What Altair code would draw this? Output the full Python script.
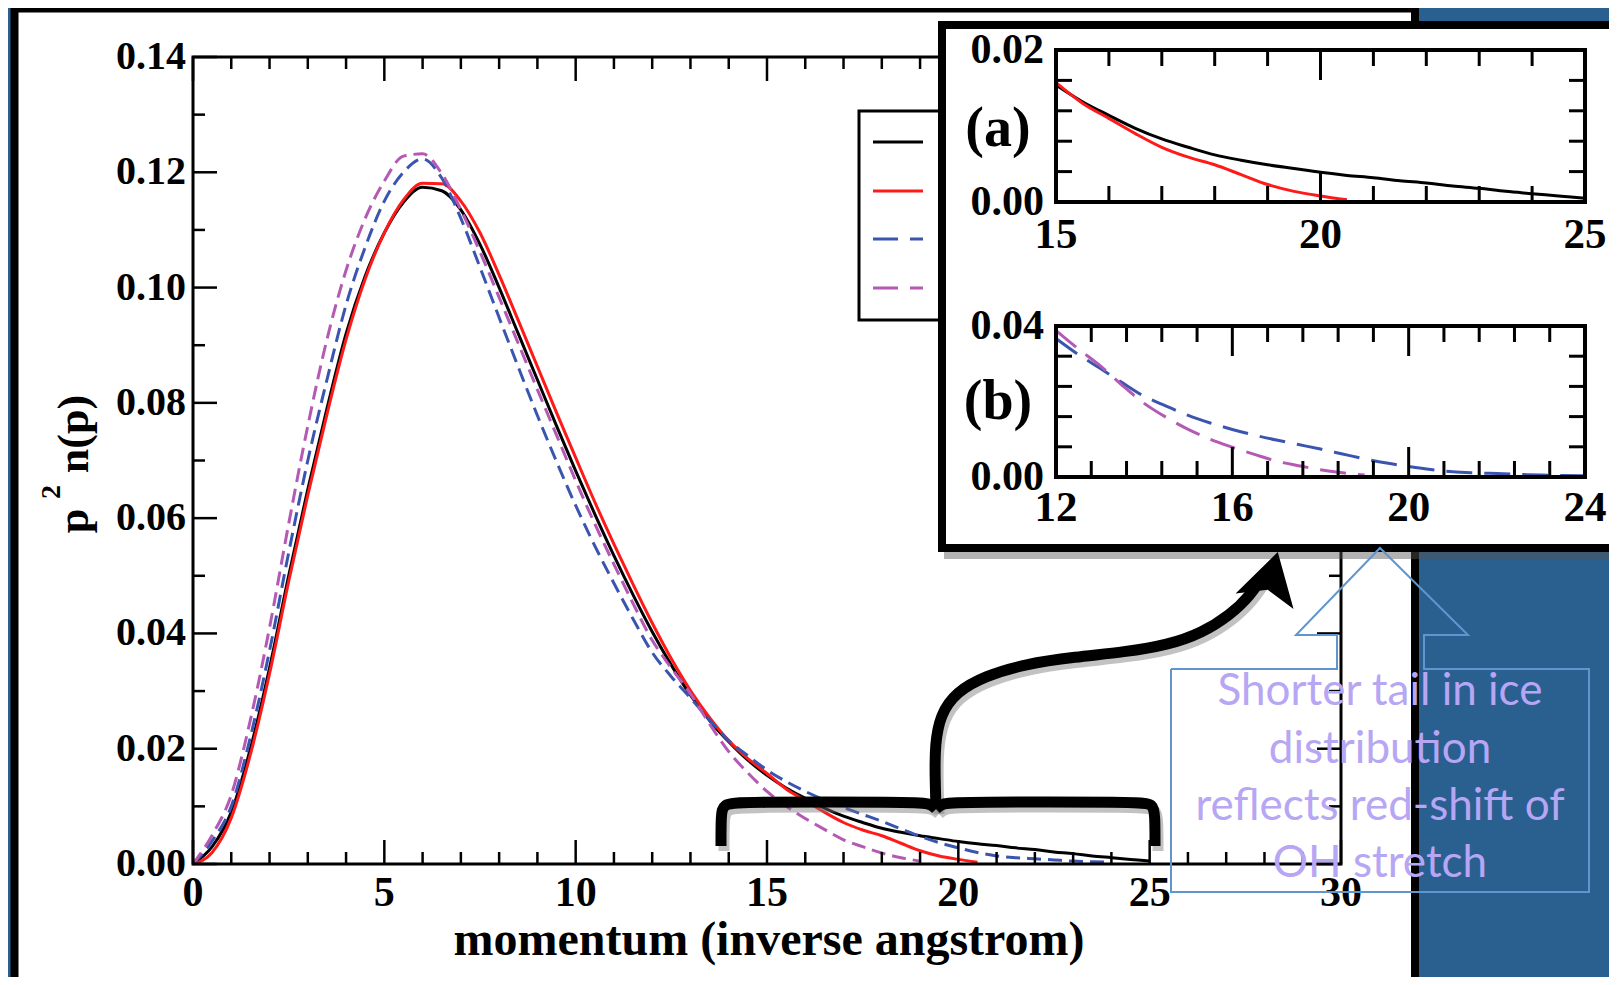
import altair as alt
import pandas as pd

# ---------------- data ----------------
MOMENTUM = [0.0, 0.5, 1.0, 1.5, 2.0, 2.5, 3.0, 3.5, 4.0, 4.5, 5.0, 5.5, 6.0, 6.5,
            7.0, 7.5, 8.0, 8.5, 9.0, 9.5, 10.0, 10.5, 11.0, 11.5, 12.0, 12.5,
            13.0, 13.5, 14.0, 14.5, 15.0, 15.5, 16.0, 16.5, 17.0, 17.5, 18.0,
            18.5, 19.0, 19.5, 20.0, 20.5, 21.0, 21.5, 22.0, 22.5, 23.0, 23.5,
            24.0, 24.5, 25.0]

BLACK = [0.000, 0.003, 0.009, 0.020, 0.034, 0.050, 0.065, 0.079, 0.092, 0.102,
         0.1095, 0.1148, 0.1174, 0.1168, 0.1135, 0.1075, 0.1000, 0.0920, 0.0840,
         0.0760, 0.0682, 0.0607, 0.0535, 0.0467, 0.0403, 0.0345, 0.0293, 0.0249,
         0.0212, 0.0180, 0.0154, 0.0132, 0.0114, 0.0097, 0.0083, 0.0072, 0.0062,
         0.0055, 0.0049, 0.0044, 0.0039, 0.0035, 0.0032, 0.0028, 0.0025, 0.0021,
         0.0018, 0.0014, 0.0011, 0.0008, 0.0005]

RED = [0.000, 0.002, 0.008, 0.019, 0.033, 0.049, 0.064, 0.078, 0.091, 0.1015,
       0.1095, 0.1152, 0.1181, 0.1180, 0.1150, 0.1095, 0.1022, 0.0943, 0.0863,
       0.0783, 0.0705, 0.0628, 0.0555, 0.0485, 0.0418, 0.0356, 0.0301, 0.0254,
       0.0214, 0.0183, 0.0157, 0.0130, 0.0110, 0.0090, 0.0072, 0.0059, 0.0049,
       0.0036, 0.0023, 0.0014, 0.0008, 0.0003]

BLUE = [0.000, 0.004, 0.010, 0.022, 0.037, 0.054, 0.070, 0.084, 0.097, 0.107,
        0.1150, 0.1200, 0.1223, 0.1190, 0.1120, 0.1035, 0.0948, 0.0862, 0.0778,
        0.0698, 0.0622, 0.0552, 0.0487, 0.0425, 0.0367, 0.0325, 0.0288, 0.0250,
        0.0214, 0.0188, 0.0163, 0.0143, 0.0126, 0.0111, 0.0098, 0.0086, 0.0074,
        0.0061, 0.0048, 0.0037, 0.0028, 0.0020, 0.0014, 0.0011, 0.0009, 0.0007,
        0.0005, 0.0004, 0.0003]

MAGENTA = [0.000, 0.005, 0.012, 0.025, 0.041, 0.059, 0.076, 0.091, 0.103, 0.112,
           0.1185, 0.1228, 0.1232, 0.1198, 0.1135, 0.1062, 0.0983, 0.0903, 0.0823,
           0.0744, 0.0665, 0.0590, 0.0520, 0.0452, 0.0388, 0.0340, 0.0295, 0.0243,
           0.0195, 0.0158, 0.0126, 0.0100, 0.0079, 0.0060, 0.0042, 0.0030, 0.0019,
           0.0011, 0.0005]

MAIN_X_TICKS = [0, 5, 10, 15, 20, 25, 30]
MAIN_X_LABELS = ["0", "5", "10", "15", "20", "25", "30"]
MAIN_Y_TICKS = [0.0, 0.02, 0.04, 0.06, 0.08, 0.10, 0.12, 0.14]
MAIN_Y_LABELS = ["0.00", "0.02", "0.04", "0.06", "0.08", "0.10", "0.12", "0.14"]
A_X_TICKS = [15, 20, 25]
A_X_LABELS = ["15", "20", "25"]
A_Y_TICKS = [0.0, 0.02]
A_Y_LABELS = ["0.00", "0.02"]
B_X_TICKS = [12, 16, 20, 24]
B_X_LABELS = ["12", "16", "20", "24"]
B_Y_TICKS = [0.0, 0.04]
B_Y_LABELS = ["0.00", "0.04"]
CALLOUT_LINES = ["Shorter tail in ice", "distribution", "reflects red-shift of", "OH stretch"]

# ---------------- styling / layout ----------------
SERIF = "Liberation Serif"
SANS = "Lato"
C_BLACK, C_RED, C_BLUE, C_MAG = "#000000", "#FF1A1A", "#3A55B0", "#B45AB4"
BG = "#2A6090"
OFF = 8  # page margin

PAGE = dict(xd=(0, 1617), xr=(0, 1617), yd=(0, 985), yr=(0, 985))
MAIN = dict(xd=(0, 30), xr=(193, 1341), yd=(0, 0.14), yr=(864, 57))
INA = dict(xd=(15, 25), xr=(1056, 1585), yd=(0, 0.02), yr=(202, 50))
INB = dict(xd=(12, 24), xr=(1056, 1585), yd=(0, 0.04), yr=(477, 326))


def sc(dom, rng):
    return alt.Scale(domain=list(dom), range=[rng[0] - OFF, rng[1] - OFF], nice=False, zero=False)


def X(P, f="x"):
    return alt.X(f"{f}:Q", scale=sc(P["xd"], P["xr"]), axis=None)


def Y(P, f="y"):
    return alt.Y(f"{f}:Q", scale=sc(P["yd"], P["yr"]), axis=None)


def rect(P, x, y, x2, y2, **mark):
    df = pd.DataFrame({"x": [x], "y": [y], "x2": [x2], "y2": [y2]})
    return alt.Chart(df).mark_rect(**mark).encode(x=X(P), x2="x2:Q", y=Y(P), y2="y2:Q")


def frame(P, sw):
    return rect(P, P["xd"][0], P["yd"][0], P["xd"][1], P["yd"][1],
                fillOpacity=0, stroke="black", strokeWidth=sw)


def ticks(P, xmaj, xmin, ymaj, ymin, lmaj, lmin, sw):
    xd, xr, yd, yr = P["xd"], P["xr"], P["yd"], P["yr"]
    xpp = (xd[1] - xd[0]) / abs(xr[1] - xr[0])
    ypp = (yd[1] - yd[0]) / abs(yr[1] - yr[0])
    rows = []
    for vals, L in ((xmaj, lmaj), (xmin, lmin)):
        for v in vals:
            rows.append((v, yd[0], v, yd[0] + L * ypp))
            rows.append((v, yd[1], v, yd[1] - L * ypp))
    for vals, L in ((ymaj, lmaj), (ymin, lmin)):
        for v in vals:
            rows.append((xd[0], v, xd[0] + L * xpp, v))
            rows.append((xd[1], v, xd[1] - L * xpp, v))
    df = pd.DataFrame(rows, columns=["x", "y", "x2", "y2"])
    return alt.Chart(df).mark_rule(color="black", strokeWidth=sw).encode(
        x=X(P), x2="x2:Q", y=Y(P), y2="y2:Q")


def xlabels(P, vals, texts, size, dy):
    df = pd.DataFrame({"x": vals, "y": [P["yd"][0]] * len(vals), "t": texts})
    return alt.Chart(df).mark_text(font=SERIF, fontSize=size, fontWeight="bold",
                                   baseline="middle", align="center", dy=dy).encode(
        x=X(P), y=Y(P), text="t:N")


def ylabels(P, vals, texts, size, dx):
    df = pd.DataFrame({"x": [P["xd"][0]] * len(vals), "y": vals, "t": texts})
    return alt.Chart(df).mark_text(font=SERIF, fontSize=size, fontWeight="bold",
                                   baseline="middle", align="right", dx=dx).encode(
        x=X(P), y=Y(P), text="t:N")


def curve(P, vals, color, dash, width, lo, hi):
    df = pd.DataFrame({"x": MOMENTUM[:len(vals)], "y": vals})
    df = df[(df.x >= lo) & (df.x <= hi)]
    mark = dict(color=color, strokeWidth=width, interpolate="monotone")
    if dash:
        mark["strokeDash"] = dash
    return alt.Chart(df).mark_line(**mark).encode(x=X(P), y=Y(P))


def path(pts, color, width, **kw):
    df = pd.DataFrame({"x": [p[0] for p in pts], "y": [p[1] for p in pts], "i": list(range(len(pts)))})
    return alt.Chart(df).mark_line(color=color, strokeWidth=width, **kw).encode(
        x=X(PAGE), y=Y(PAGE), order="i:Q")


def ptext(x, y, t, **mark):
    df = pd.DataFrame({"x": [x], "y": [y], "t": [t]})
    return alt.Chart(df).mark_text(**mark).encode(x=X(PAGE), y=Y(PAGE), text="t:N")


layers = []

# white slide panel with black border
layers.append(rect(PAGE, 14.5, 8.5, 1415, 1000, fill="white", stroke="black", strokeWidth=8))

# ---------------- main plot ----------------
layers.append(curve(MAIN, BLACK, C_BLACK, None, 3, 0, 30))
layers.append(curve(MAIN, RED, C_RED, None, 3, 0, 30))
layers.append(curve(MAIN, BLUE, C_BLUE, [14, 7], 3, 0, 30))
layers.append(curve(MAIN, MAGENTA, C_MAG, [14, 7], 3, 0, 30))
layers.append(frame(MAIN, 3))
layers.append(ticks(MAIN, MAIN_X_TICKS, [i for i in range(31) if i % 5],
                    MAIN_Y_TICKS, [0.01, 0.03, 0.05, 0.07, 0.09, 0.11, 0.13], 24, 12, 2.5))
layers.append(xlabels(MAIN, MAIN_X_TICKS, MAIN_X_LABELS, 42, 29))
layers.append(ylabels(MAIN, MAIN_Y_TICKS, MAIN_Y_LABELS, 40, -7))

# axis titles
layers.append(ptext(769, 955, "momentum (inverse angstrom)", font=SERIF, fontSize=48,
                    fontWeight="bold", align="center", baseline="alphabetic"))
layers.append(ptext(88, 521, "p", font=SERIF, fontSize=44, fontWeight="bold",
                    align="center", baseline="alphabetic", angle=270))
layers.append(ptext(88, 434, "n(p)", font=SERIF, fontSize=44, fontWeight="bold",
                    align="center", baseline="alphabetic", angle=270))
layers.append(ptext(60, 492, "2", font=SERIF, fontSize=28, fontWeight="bold",
                    align="center", baseline="alphabetic", angle=270))

# legend box (labels hidden under the inset)
layers.append(rect(PAGE, 859, 111, 990, 320, fill="white", stroke="black", strokeWidth=3))
layers.append(path([(873, 142), (923, 142)], C_BLACK, 3))
layers.append(path([(873, 191), (923, 191)], C_RED, 3))
layers.append(path([(873, 239), (923, 239)], C_BLUE, 3, strokeDash=[25, 12]))
layers.append(path([(873, 288), (923, 288)], C_MAG, 3, strokeDash=[25, 12]))

# ---------------- inset ----------------
layers.append(rect(PAGE, 944, 29, 1640, 559, fill="#555555", opacity=0.45))
layers.append(rect(PAGE, 942, 25, 1640, 548, fill="white", stroke="black", strokeWidth=8))

layers.append(curve(INA, BLACK, C_BLACK, None, 3, 15, 25))
layers.append(curve(INA, RED, C_RED, None, 3, 15, 25))
layers.append(frame(INA, 4))
layers.append(ticks(INA, A_X_TICKS, [16, 17, 18, 19, 21, 22, 23, 24], [],
                    [0.004, 0.008, 0.012, 0.016], 30, 16, 3))
layers.append(xlabels(INA, A_X_TICKS, A_X_LABELS, 43, 33))
layers.append(ylabels(INA, A_Y_TICKS, A_Y_LABELS, 42, -12))
layers.append(ptext(998, 129, "(a)", font=SERIF, fontSize=56, fontWeight="bold",
                    align="center", baseline="middle"))

layers.append(curve(INB, BLUE, C_BLUE, [26, 12], 3, 12, 24))
layers.append(curve(INB, MAGENTA, C_MAG, [26, 12], 3, 12, 24))
layers.append(frame(INB, 4))
layers.append(ticks(INB, B_X_TICKS,
                    [12.8, 13.6, 14.4, 15.2, 16.8, 17.6, 18.4, 19.2, 20.8, 21.6, 22.4, 23.2],
                    [], [0.008, 0.016, 0.024, 0.032], 30, 16, 3))
layers.append(xlabels(INB, B_X_TICKS, B_X_LABELS, 43, 31))
layers.append(ylabels(INB, B_Y_TICKS, B_Y_LABELS, 42, -12))
layers.append(ptext(998, 402, "(b)", font=SERIF, fontSize=56, fontWeight="bold",
                    align="center", baseline="middle"))

# ---------------- bracket + arrow ----------------
LEFT = [(721, 846), (721, 815), (723, 804), (740, 802), (910, 802), (930, 803), (936, 809)]
RIGHT = [(936, 809), (942, 803), (962, 802), (1140, 802), (1153, 804), (1155, 815), (1155, 846)]
STEM = [(936, 809), (935, 775), (935, 745), (940, 715), (956, 692), (985, 676), (1025, 664),
        (1075, 657), (1125, 652), (1168, 645), (1202, 633), (1230, 615), (1250, 596), (1266, 572)]
for pts in (LEFT, RIGHT, STEM):
    layers.append(path([(x + 3, y + 5) for x, y in pts], "#777777", 11, interpolate="basis", opacity=0.45))
for pts in (LEFT, RIGHT, STEM):
    layers.append(path(pts, "black", 11, interpolate="basis"))
ARROW = "M0,-1 L1,0.7 L0,0.3 L-1,0.7 Z"
layers.append(alt.Chart(pd.DataFrame({"x": [1270], "y": [581]})).mark_point(
    shape=ARROW, size=3600, angle=15, filled=True, color="black", opacity=1, strokeWidth=0
).encode(x=X(PAGE), y=Y(PAGE)))

# ---------------- callout ----------------
CALLOUT = [(1171, 669), (1337, 669), (1337, 635), (1296, 635), (1380, 548), (1468, 635),
           (1424, 635), (1424, 669), (1589, 669), (1589, 892), (1171, 892), (1171, 669)]
layers.append(path(CALLOUT, "#5F96D0", 2))
for t, yb in zip(CALLOUT_LINES, [705, 763, 820, 877]):
    layers.append(ptext(1380, yb, t, font=SANS, fontSize=44, color="#B7A6F4",
                        align="center", baseline="alphabetic"))

chart = alt.layer(*layers).resolve_scale(x="independent", y="independent").properties(
    width=1601, height=969, background=BG, padding=0, autosize="none"
).configure_view(stroke=None)

chart.save("out.html", embed_options={"renderer": "svg", "actions": False})
